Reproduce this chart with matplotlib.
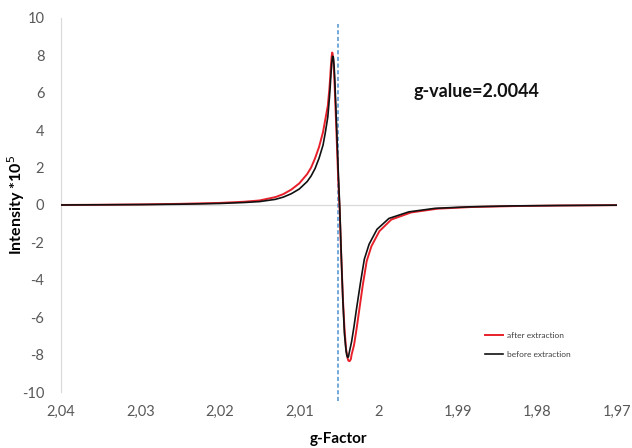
import matplotlib
matplotlib.use("Agg")
import matplotlib.pyplot as plt

# EPR spectra (g-factor, intensity *1e5)
g_after = [2.040, 2.035, 2.030, 2.025, 2.020, 2.017, 2.015, 2.013, 2.012, 2.011,
           2.010, 2.009, 2.0085, 2.008, 2.0075, 2.007, 2.0067, 2.0064, 2.0062, 2.0061,
           2.0060, 2.0059, 2.00585, 2.0058, 2.0057, 2.0056, 2.0055, 2.0053, 2.0051, 2.0049,
           2.0047, 2.0045, 2.0043, 2.0041, 2.0039, 2.0038, 2.00365, 2.0035, 2.0034, 2.0031,
           2.0028, 2.0025, 2.0020, 2.0015, 2.0009, 1.9999, 1.9984, 1.9959, 1.9926, 1.9883,
           1.9829, 1.9772, 1.9700]
i_after = [0.00, 0.01, 0.03, 0.06, 0.11, 0.17, 0.24, 0.42, 0.58, 0.82,
           1.15, 1.65, 2.00, 2.50, 3.10, 3.90, 4.60, 5.30, 6.20, 6.80,
           7.50, 8.00, 8.15, 8.10, 7.70, 7.00, 6.00, 3.80, 1.50, -0.30,
           -2.80, -5.00, -6.60, -7.70, -8.20, -8.33, -8.35, -8.25, -8.00, -7.50,
           -6.70, -5.80, -4.30, -3.00, -2.20, -1.40, -0.78, -0.40, -0.20, -0.11,
           -0.06, -0.03, -0.01]

g_before = [2.040, 2.035, 2.030, 2.025, 2.020, 2.017, 2.015, 2.013, 2.012, 2.011,
            2.010, 2.009, 2.0085, 2.008, 2.0075, 2.007, 2.0067, 2.0064, 2.0062, 2.0061,
            2.0060, 2.0059, 2.0058, 2.0057, 2.0056, 2.0055, 2.0053, 2.0051, 2.0049, 2.0047,
            2.0045, 2.0043, 2.0041, 2.0040, 2.0039, 2.0038, 2.0037, 2.0034, 2.0031, 2.0028,
            2.0023, 2.0018, 2.0012, 2.0002, 1.9987, 1.9962, 1.9929, 1.9886, 1.9832, 1.9775,
            1.9700]
i_before = [0.00, 0.01, 0.02, 0.04, 0.08, 0.13, 0.18, 0.30, 0.42, 0.60,
            0.85, 1.25, 1.55, 1.95, 2.50, 3.20, 3.90, 4.70, 5.70, 6.30,
            7.00, 7.60, 7.95, 7.90, 7.40, 6.50, 4.30, 2.00, -0.10, -2.70,
            -5.10, -6.90, -7.80, -8.05, -8.15, -8.12, -7.90, -7.30, -6.50, -5.60,
            -4.20, -2.90, -2.10, -1.30, -0.72, -0.37, -0.18, -0.10, -0.05, -0.03,
            -0.01]

g_marker = 2.0051
g_label = "g-value=2.0044"

x_ticks = [2.04, 2.03, 2.02, 2.01, 2.00, 1.99, 1.98, 1.97]
x_tick_labels = ["2,04", "2,03", "2,02", "2,01", "2", "1,99", "1,98", "1,97"]
y_ticks = [-10, -8, -6, -4, -2, 0, 2, 4, 6, 8, 10]

plt.rcParams['font.family'] = ['Lato', 'DejaVu Sans']
plt.rcParams['axes.unicode_minus'] = False

fig = plt.figure(figsize=(6.32, 4.48), dpi=100)
ax = fig.add_axes([0.0965, 0.125, 0.8795, 0.835])

ax.axhline(0, color='#d9d9d9', lw=0.9, zorder=1)
ax.plot([g_marker, g_marker], [-10.5, 9.7], color='#5b9bd5', lw=1.2,
        ls=(0, (2.5, 1.5)), clip_on=False, zorder=2)
ax.plot(g_after, i_after, color='#e8202a', lw=1.4, label='after extraction', zorder=3)
ax.plot(g_before, i_before, color='#111111', lw=1.2, label='before extraction', zorder=4)

ax.set_xlim(2.04, 1.97)
ax.set_ylim(-10, 10)
ax.set_xticks(x_ticks)
ax.set_xticklabels(x_tick_labels)
ax.set_yticks(y_ticks)
ax.tick_params(length=0, labelsize=10.5, colors='#595959')
ax.tick_params(axis='y', pad=12)
ax.tick_params(axis='x', pad=9)

for s in ['top', 'right', 'bottom']:
    ax.spines[s].set_visible(False)
ax.spines['left'].set_color('#d9d9d9')

ax.set_xlabel('g-Factor', fontsize=11, fontweight='bold', labelpad=10)
ax.set_ylabel('Intensity *10$^{5}$', fontsize=11.5, fontweight='bold')
ax.yaxis.set_label_coords(-0.062, 0.5)

ax.text(0.635, 0.789, g_label, transform=ax.transAxes, fontsize=13,
        fontweight='bold', color='#111111')

leg = ax.legend(loc='lower right', bbox_to_anchor=(0.93, 0.07), frameon=False,
                fontsize=6, handlelength=2.2, handletextpad=0.4, labelspacing=1.5)
for t in leg.get_texts():
    t.set_color('#404040')

fig.savefig('out.png', dpi=100)
